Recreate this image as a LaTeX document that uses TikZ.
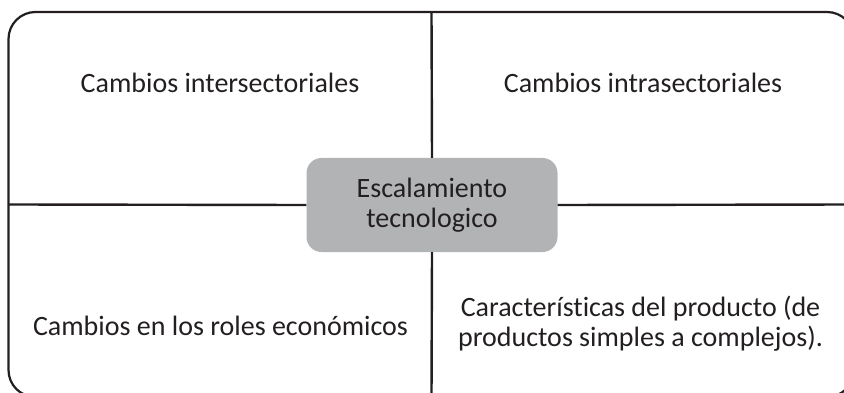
\documentclass[tikz,border=0pt]{standalone}
\usepackage{fontspec}
\setmainfont{Carlito}[Ligatures={NoCommon}]
\definecolor{txt}{HTML}{231F20}
\definecolor{boxgray}{HTML}{B2B3B5}
\tikzset{
  frameline/.style={line width=2.2pt, draw=txt},
  divline/.style={line width=2.4pt, draw=txt},
  label/.style={text=txt, font=\fontsize{28}{29.5}\selectfont, align=center, inner sep=0pt},
  centerbox/.style={fill=boxgray, rounded corners=15pt, minimum width=251pt, minimum height=94pt, text=txt, font=\fontsize{28}{30}\selectfont, align=center, inner sep=0pt}
}
\begin{document}
\begin{tikzpicture}[x=1pt,y=-1pt]
\useasboundingbox (0,0) rectangle (844,393);
\clip (0,0) rectangle (844,393);
\draw[frameline, rounded corners=27pt] (8.5,12) rectangle (854,397);
\coordinate (top) at (431.5,12);
\coordinate (bot) at (431.5,397);
\coordinate (lft) at (8.5,204.5);
\coordinate (rgt) at (854,204.5);
\node[centerbox] (c) at (432,205) {Escalamiento\\tecnologico};
\draw[divline] (top) -- (c.north);
\draw[divline] (c.south) -- (bot);
\draw[divline] (lft) -- (c.west);
\draw[divline] (c.east) -- (rgt);
\node[label, anchor=base] (tl) at (220,93) {Cambios intersectoriales};
\node[label, anchor=base] (tr) at (643,93) {Cambios intrasectoriales};
\node[label, anchor=base] (bl) at (220.5,335) {Cambios en los roles económicos};
\node[label, anchor=base] (br) at (640.5,346) {Características del producto (de\\productos simples a complejos).};
\end{tikzpicture}
\end{document}
